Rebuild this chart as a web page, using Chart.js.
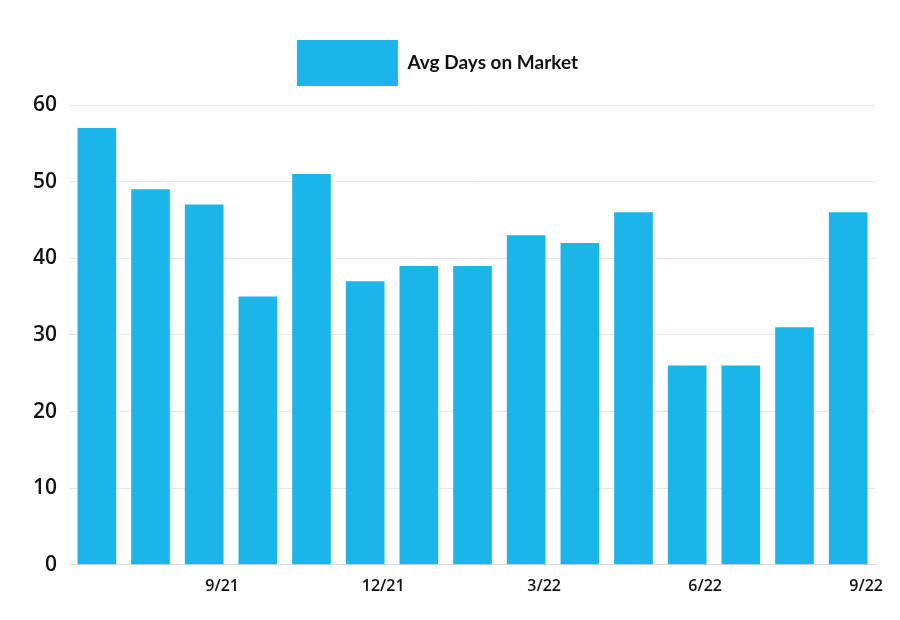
<!DOCTYPE html>
<html>
<head>
<meta charset="utf-8">
<script src="https://cdn.jsdelivr.net/npm/chart.js@4"></script>
<style>
  html, body { margin: 0; padding: 0; background: #fff; }
  #wrap { width: 900px; height: 620px; }
</style>
</head>
<body>
<div id="wrap"><canvas id="days-chart"></canvas></div>
<script>
// Monthly figures, 7/21 through 9/22
var months = ['7/21', '8/21', '9/21', '10/21', '11/21', '12/21', '1/22', '2/22',
              '3/22', '4/22', '5/22', '6/22', '7/22', '8/22', '9/22'];
var avgDays = [57, 49, 47, 35, 51, 37, 39, 39, 43, 42, 46, 26, 26, 31, 46];
var shownLabels = ['9/21', '12/21', '3/22', '6/22', '9/22'];
var yTicks = [0, 10, 20, 30, 40, 50, 60];

var barBlue = '#1bb5e9';

// push the plot a little further below the legend
var legendGap = {
    id: 'legendGap',
    beforeInit: function(chart) {
        var origFit = chart.legend.fit;
        chart.legend.fit = function() {
            origFit.bind(chart.legend)();
            this.height += 9;
        };
    }
};

var ctx = document.getElementById('days-chart');
var myChart = new Chart(ctx, {
    type: 'bar',
    data: {
        labels: months,
        datasets: [{
            label: 'Avg Days on Market',
            data: avgDays,
            backgroundColor: barBlue,
            borderWidth: 0,
            categoryPercentage: 0.72,
            barPercentage: 1.0
        }]
    },
    plugins: [legendGap],
    options: {
        responsive: true,
        maintainAspectRatio: false,
        animation: false,
        layout: {
            padding: { top: 30, right: 25, bottom: 12, left: 0 }
        },
        plugins: {
            legend: {
                display: true,
                position: 'top',
                labels: {
                    boxWidth: 101,
                    boxHeight: 46,
                    padding: 10,
                    color: '#111',
                    font: { family: 'Lato', size: 19, weight: '700' }
                }
            },
            tooltip: { enabled: false }
        },
        scales: {
            x: {
                grid: { display: false, drawTicks: false },
                border: { display: true, color: '#d9d9d9', width: 1 },
                ticks: {
                    autoSkip: false,
                    maxRotation: 0,
                    minRotation: 0,
                    padding: 12,
                    labelOffset: 18,
                    color: '#111',
                    font: { family: 'Open Sans', size: 16, weight: '600' },
                    callback: function(value, index) {
                        var m = months[index];
                        return shownLabels.indexOf(m) >= 0 ? m : '';
                    }
                }
            },
            y: {
                min: 0,
                max: 60,
                afterBuildTicks: function(scale) {
                    scale.ticks = yTicks.map(function(v){ return { value: v }; });
                },
                afterFit: function(scale) {
                    scale.width = 70;
                },
                grid: { color: '#e6e6e6', drawTicks: false },
                border: { display: false },
                ticks: {
                    padding: 13,
                    color: '#111',
                    font: { family: 'Open Sans', size: 21, weight: '600' }
                }
            }
        }
    }
});
</script>
</body>
</html>
